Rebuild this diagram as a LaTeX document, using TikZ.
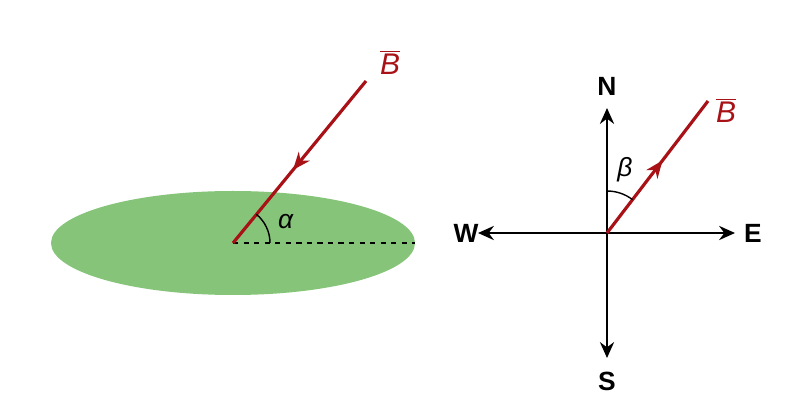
\documentclass[tikz,border=0pt]{standalone}
\usepackage{fontspec}
\setmainfont{Liberation Sans}
\usetikzlibrary{arrows.meta,decorations.markings}
\definecolor{grn}{RGB}{134,196,122}
\definecolor{dred}{RGB}{168,18,22}
\tikzset{
 field/.style={draw=dred,line width=1.8pt,postaction=decorate,decoration={markings,mark=at position 0.55 with {\arrow{Stealth[length=10pt,width=8pt]}}}},
 dir/.style={black,line width=1.6pt,-{Stealth[length=9pt,width=8pt]}},
 lab/.style={font=\fontsize{15}{18}\selectfont\bfseries},
 blab/.style={text=dred,font=\fontsize{17}{20}\selectfont},
}
\begin{document}
\begin{tikzpicture}[x=0.02cm,y=-0.02cm]
\useasboundingbox (0,0) rectangle (800,411);
\fill[grn] (233,243) ellipse [x radius=182, y radius=52];
\coordinate (o1) at (233,243);
\coordinate (d1) at (415,243);
\coordinate (b1) at (366,81);
\draw[dashed,line width=0.8pt] (o1) -- (d1);
\draw[field] (b1) -- (o1);
\draw[line width=0.8pt] (270,243) arc[start angle=0,end angle=-50.6,radius=37];
\node[font=\fontsize{15}{18}\selectfont] (al) at (286,222) {\textit{α}};
\node[blab] (bl1) at (390,62) {$\overline{\textit{B}}$};
\coordinate (c) at (607,233);
\node[lab] (N) at (607,86) {N};
\node[lab] (S) at (607,381) {S};
\node[lab] (W) at (466,233) {W};
\node[lab] (E) at (753,233) {E};
\draw[dir] (c) -- (607,108);
\draw[dir] (c) -- (607,358);
\draw[dir] (c) -- (478,233);
\draw[dir] (c) -- (735,233);
\coordinate (b2) at (708,101);
\draw[field] (c) -- (b2);
\draw[line width=0.8pt] (607,191) arc[start angle=-90,end angle=-52.6,radius=42];
\node[font=\fontsize{15}{18}\selectfont] (be) at (625,170) {\textit{β}};
\node[blab] (bl2) at (726,110) {$\overline{\textit{B}}$};
\end{tikzpicture}
\end{document}
